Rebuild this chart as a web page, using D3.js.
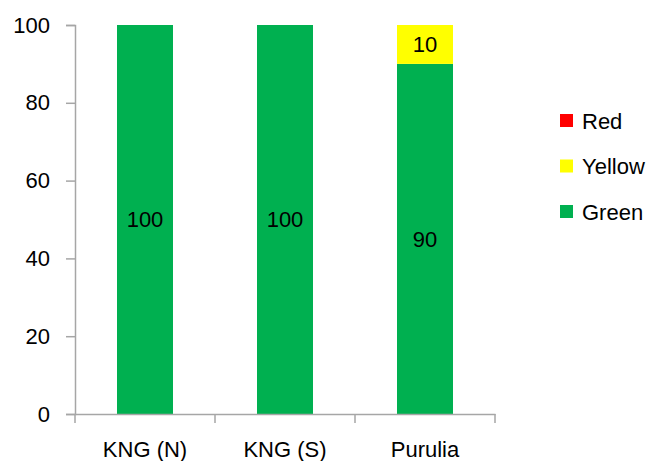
<!DOCTYPE html>
<html>
<head>
<meta charset="utf-8">
<script src="https://cdn.jsdelivr.net/npm/d3@7"></script>
<style>
  html, body { margin: 0; padding: 0; background: #fff; }
  svg { display: block; font-family: "Liberation Sans", Arial, sans-serif; }
</style>
</head>
<body>
<svg id="chart" width="652" height="461"></svg>
<script>
const categories = ["KNG (N)", "KNG (S)", "Purulia"];
const greenValues = [100, 100, 90];
const yellowValues = [0, 0, 10];
const redValues = [0, 0, 0];
const seriesNames = ["Green", "Yellow", "Red"];
const seriesColors = ["#00B050", "#FFFF00", "#FF0000"];
const yTicks = [0, 20, 40, 60, 80, 100];
const legendOrder = ["Red", "Yellow", "Green"];

const rows = categories.map((c, i) => ({
  category: c, Green: greenValues[i], Yellow: yellowValues[i], Red: redValues[i]
}));

const svg = d3.select("#chart");
const axisColor = "#a6a6a6";
const fontSize = 22;

const x = d3.scaleBand().domain(categories).range([75, 495]).paddingInner(0.6).paddingOuter(0.3);
const y = d3.scaleLinear().domain([0, 100]).range([414, 25]);
const color = d3.scaleOrdinal().domain(seriesNames).range(seriesColors);

const stacked = d3.stack().keys(seriesNames)(rows);

// bars
const g = svg.append("g");
stacked.forEach(s => {
  g.selectAll(null).data(s).join("rect")
    .attr("x", d => x(d.data.category))
    .attr("y", d => y(d[1]))
    .attr("width", x.bandwidth())
    .attr("height", d => y(d[0]) - y(d[1]))
    .attr("fill", color(s.key));
  g.selectAll(null).data(s.filter(d => d[1] - d[0] > 0)).join("text")
    .attr("x", d => x(d.data.category) + x.bandwidth() / 2)
    .attr("y", d => (y(d[0]) + y(d[1])) / 2)
    .attr("dy", "0.35em")
    .attr("text-anchor", "middle")
    .attr("font-size", fontSize)
    .attr("fill", "#000")
    .text(d => d[1] - d[0]);
});

// y axis
const yAxis = svg.append("g").attr("transform", "translate(75,0)")
  .call(d3.axisLeft(y).tickValues(yTicks).tickSize(9).tickPadding(16));
yAxis.select(".domain").attr("stroke", axisColor).attr("stroke-width", 1.5);
yAxis.selectAll(".tick line").attr("stroke", axisColor).attr("stroke-width", 1.5);
yAxis.selectAll(".tick text").attr("font-size", fontSize).attr("fill", "#000")
  .attr("font-family", "Liberation Sans, Arial, sans-serif");

// x axis
const xAxis = svg.append("g").attr("transform", "translate(0,414)")
  .call(d3.axisBottom(x).tickSize(0).tickPadding(27));
xAxis.select(".domain").attr("stroke", axisColor).attr("stroke-width", 1.5);
xAxis.selectAll(".tick text").attr("font-size", fontSize).attr("fill", "#000")
  .attr("font-family", "Liberation Sans, Arial, sans-serif");
const bounds = d3.range(categories.length + 1).map(i => x.range()[0] + i * x.step());
xAxis.selectAll(".bound").data(bounds).join("line")
  .attr("x1", d => d).attr("x2", d => d)
  .attr("y1", 0).attr("y2", 9)
  .attr("stroke", axisColor).attr("stroke-width", 1.5);

// legend
const legend = svg.append("g").attr("transform", "translate(560,121)");
legendOrder.forEach((name, i) => {
  const row = legend.append("g").attr("transform", `translate(0,${i * 45.5})`);
  row.append("rect").attr("x", 0).attr("y", -7).attr("width", 13).attr("height", 13)
    .attr("fill", color(name));
  row.append("text").attr("x", 22).attr("y", 0).attr("dy", "0.35em")
    .attr("font-size", fontSize).attr("fill", "#000").text(name);
});
</script>
</body>
</html>
